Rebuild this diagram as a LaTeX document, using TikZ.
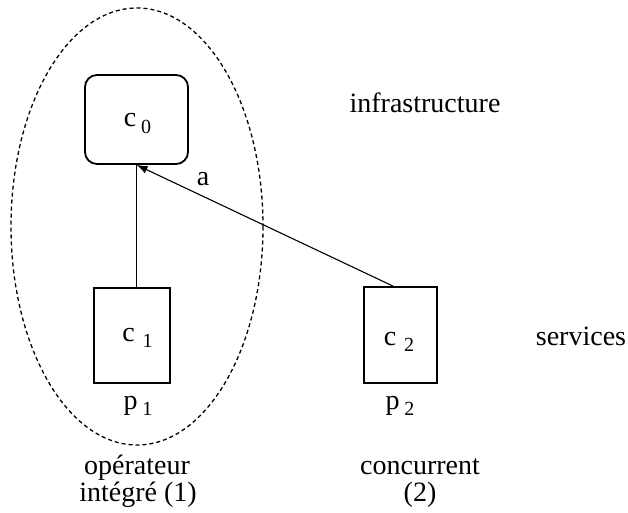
\documentclass[tikz,border=0pt]{standalone}
\usepackage{fontspec}
\setmainfont{Liberation Serif}
\usetikzlibrary{arrows.meta,calc}
% index written slightly smaller and lowered
\newcommand{\sbx}[1]{\raisebox{-0.24em}{\fontsize{20}{20}\selectfont #1}}
\begin{document}
\begin{tikzpicture}[x=1pt,y=-1pt,
  every node/.style={font=\fontsize{28}{24}\selectfont},
  compbox/.style={draw,line width=1.8pt,inner sep=0pt},
  link/.style={line width=1.1pt},
  txt/.style={align=center,inner sep=0pt,anchor=base}]
\useasboundingbox (0,0) rectangle (628,513);
% group of the integrated operator
\draw[line width=1.3pt,dash pattern=on 4pt off 3pt] (137,226.5) ellipse [x radius=126, y radius=218.5];
% components
\node[compbox,rounded corners=12pt,minimum width=103pt,minimum height=89pt] (c0) at (136.5,119.5) {};
\node[compbox,minimum width=76pt,minimum height=95pt] (c1) at (132,335.5) {};
\node[compbox,minimum width=73pt,minimum height=96pt] (c2) at (400.5,335) {};
\node[txt] (l0) at (137.5,127) {c\,\sbx{0}};
\node[txt] (l1) at (137.5,341) {c\;\sbx{1}};
\node[txt] (l2) at (399,345) {c\;\sbx{2}};
\node[txt] (p1) at (138,409) {p\,\sbx{1}};
\node[txt] (p2) at (400,409) {p\,\sbx{2}};
% connectors
\coordinate (top1) at (c0.south |- c1.north);
\draw[link] (c0.south) -- (top1);
\coordinate (s2) at ($(c2.north west)!0.4!(c2.north east)$);
\draw[link,-{Latex[length=11pt,width=8pt]}] (s2) -- (c0.south);
\node[txt] (a) at (203,185) {a};
% layer and actor labels
\node[txt] (infra) at (425,113) {infrastructure};
\node[txt] (serv) at (581,345) {services};
\node[txt] (op) at (137,474) {opérateur};
\node[txt] (op2) at (138,501) {intégré (1)};
\node[txt] (cc) at (420,474) {concurrent};
\node[txt] (cc2) at (420,501) {(2)};
\end{tikzpicture}
\end{document}
